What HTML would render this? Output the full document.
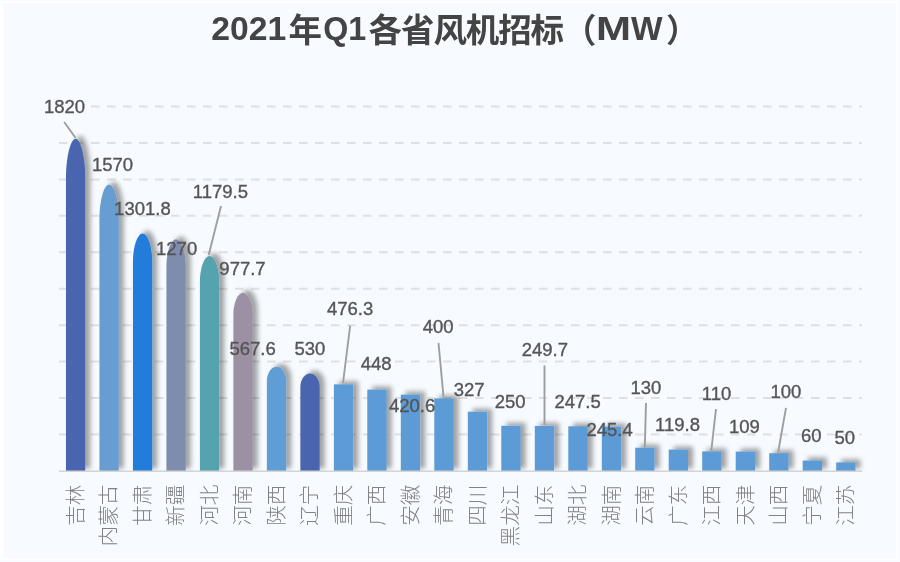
<!DOCTYPE html>
<html lang="zh-CN">
<head>
<meta charset="utf-8">
<title>2021年Q1各省风机招标（MW）</title>
<style>
html,body{margin:0;padding:0;background:#ffffff;}
body{width:900px;height:562px;overflow:hidden;position:relative;}
svg{position:absolute;left:0;top:0;display:block;filter:blur(0.65px);}
.title{font-family:"Liberation Sans","Noto Sans CJK SC",sans-serif;font-weight:700;font-size:32.5px;fill:#444444;}
.val{font-family:"Liberation Sans","Noto Sans CJK SC",sans-serif;font-size:18.5px;fill:#555555;stroke:#555555;stroke-width:0.35px;text-anchor:middle;}
.cat{font-family:"Liberation Sans","Noto Sans CJK SC",sans-serif;font-weight:300;font-size:20.6px;fill:#828282;text-anchor:end;}
.grid line{stroke:#dfe0e3;stroke-width:2;stroke-dasharray:8.5 7.5;}
.lead line{stroke:#9e9e9e;stroke-width:1.9;}
</style>
</head>
<body>
<svg width="900" height="562" viewBox="0 0 900 562">
<defs>
<filter id="sh" x="-50%" y="-20%" width="220%" height="140%">
<feGaussianBlur in="SourceAlpha" stdDeviation="2.8"/>
<feOffset dx="4.8" dy="-3" result="o"/>
<feComponentTransfer><feFuncA type="linear" slope="0.36"/></feComponentTransfer>
<feMerge><feMergeNode/><feMergeNode in="SourceGraphic"/></feMerge>
</filter>
<clipPath id="plot"><rect x="0" y="0" width="900" height="471.2"/></clipPath>
</defs>
<rect x="0" y="0" width="900" height="562" fill="#ffffff"/>
<rect x="898.3" y="0" width="1.7" height="562" fill="#f9fbfe"/>
<rect x="0" y="0" width="900" height="0.9" fill="#f9fbfe"/>
<rect x="0" y="560.3" width="900" height="1.7" fill="#f9fbfe"/>
<rect x="3.5" y="2.6" width="893.1" height="556.1" fill="#f7fafe"/>

<g class="grid">
<line x1="59" y1="434.6" x2="862" y2="434.6"/>
<line x1="59" y1="398.1" x2="862" y2="398.1"/>
<line x1="59" y1="361.6" x2="862" y2="361.6"/>
<line x1="59" y1="325.2" x2="862" y2="325.2"/>
<line x1="59" y1="288.8" x2="862" y2="288.8"/>
<line x1="59" y1="252.3" x2="862" y2="252.3"/>
<line x1="59" y1="215.8" x2="862" y2="215.8"/>
<line x1="59" y1="179.4" x2="862" y2="179.4"/>
<line x1="59" y1="142.9" x2="862" y2="142.9"/>
<line x1="91" y1="106.5" x2="862" y2="106.5"/>
</g>
<g clip-path="url(#plot)"><g filter="url(#sh)">
<path d="M65.95,471.5 L65.95,178.73 C65.95,156.37 70.77,138.8 75.6,138.8 C80.42,138.8 85.25,156.37 85.25,178.73 L85.25,471.5 Z" fill="#4a65b0"/>
<path d="M99.44,471.5 L99.44,218.94 C99.44,199.65 104.27,184.5 109.09,184.5 C113.92,184.5 118.74,199.65 118.74,218.94 L118.74,471.5 Z" fill="#679dd1"/>
<path d="M132.93,471.5 L132.93,262.09 C132.93,246.10 137.76,233.53 142.58,233.53 C147.41,233.53 152.23,246.10 152.23,262.09 L152.23,471.5 Z" fill="#237cd9"/>
<path d="M166.41,471.5 L166.41,267.2 C166.41,251.60 171.24,239.34 176.06,239.34 C180.88,239.34 185.71,251.60 185.71,267.2 L185.71,471.5 Z" fill="#7e8cae"/>
<path d="M199.9,471.5 L199.9,281.76 C199.9,267.27 204.73,255.89 209.55,255.89 C214.38,255.89 219.2,267.27 219.2,281.76 L219.2,471.5 Z" fill="#56a3b0"/>
<path d="M233.39,471.5 L233.39,314.22 C233.39,302.21 238.21,292.78 243.04,292.78 C247.87,292.78 252.69,302.21 252.69,314.22 L252.69,471.5 Z" fill="#9c90a4"/>
<path d="M266.88,471.5 L266.88,380.75 C266.88,372.91 271.70,366.74 276.53,366.74 C281.35,366.74 286.18,372.91 286.18,380.75 L286.18,471.5 Z" fill="#5f9dd5"/>
<path d="M300.37,471.5 L300.37,386.7 C300.37,379.38 305.19,373.62 310.02,373.62 C314.84,373.62 319.67,379.38 319.67,386.7 L319.67,471.5 Z" fill="#4965af"/>
<rect x="333.9" y="384.4" width="19.3" height="87.1" fill="#5b9bd5"/>
<rect x="367.3" y="389.6" width="19.3" height="81.9" fill="#5b9bd5"/>
<rect x="400.8" y="394.6" width="19.3" height="76.9" fill="#5b9bd5"/>
<rect x="434.3" y="398.4" width="19.3" height="73.1" fill="#5b9bd5"/>
<rect x="467.8" y="411.7" width="19.3" height="59.8" fill="#5b9bd5"/>
<rect x="501.3" y="425.8" width="19.3" height="45.7" fill="#5b9bd5"/>
<rect x="534.8" y="425.9" width="19.3" height="45.6" fill="#5b9bd5"/>
<rect x="568.3" y="426.3" width="19.3" height="45.2" fill="#5b9bd5"/>
<rect x="601.8" y="426.6" width="19.3" height="44.9" fill="#5b9bd5"/>
<rect x="635.2" y="447.7" width="19.3" height="23.8" fill="#5b9bd5"/>
<rect x="668.7" y="449.6" width="19.3" height="21.9" fill="#5b9bd5"/>
<rect x="702.2" y="451.4" width="19.3" height="20.1" fill="#5b9bd5"/>
<rect x="735.7" y="451.6" width="19.3" height="19.9" fill="#5b9bd5"/>
<rect x="769.2" y="453.2" width="19.3" height="18.3" fill="#5b9bd5"/>
<rect x="802.7" y="460.5" width="19.3" height="11.0" fill="#5b9bd5"/>
<rect x="836.2" y="462.4" width="19.3" height="9.1" fill="#5b9bd5"/>
</g></g>
<line x1="59" y1="471.3" x2="862" y2="471.3" stroke="#d4d4d4" stroke-width="1.4"/>
<g class="lead">
<line x1="64.2" y1="122" x2="75.6" y2="138"/>
<line x1="221" y1="206" x2="208.7" y2="255"/>
<line x1="350.2" y1="325.5" x2="343" y2="383"/>
<line x1="438.5" y1="343" x2="443.5" y2="396.7"/>
<line x1="544.5" y1="365.4" x2="544.5" y2="425"/>
<line x1="646" y1="403" x2="644.8" y2="447.3"/>
<line x1="716" y1="409" x2="711.3" y2="450.5"/>
<line x1="786" y1="407.8" x2="778.2" y2="452"/>
</g>
<g>
<text class="val" x="64.5" y="112.9">1820</text>
<text class="val" x="112.5" y="170.5">1570</text>
<text class="val" x="142.4" y="215.0">1301.8</text>
<text class="val" x="176.6" y="255.2">1270</text>
<text class="val" x="220.4" y="197.5">1179.5</text>
<text class="val" x="242.5" y="274.7">977.7</text>
<text class="val" x="252.6" y="354.8">567.6</text>
<text class="val" x="309.9" y="354.8">530</text>
<text class="val" x="350.1" y="314.7">476.3</text>
<text class="val" x="376.1" y="370.2">448</text>
<text class="val" x="412.1" y="411.8">420.6</text>
<text class="val" x="438.1" y="333.2">400</text>
<text class="val" x="469.2" y="396.2">327</text>
<text class="val" x="510.1" y="407.9">250</text>
<text class="val" x="544.8" y="355.6">249.7</text>
<text class="val" x="577.6" y="407.9">247.5</text>
<text class="val" x="609.6" y="436.4">245.4</text>
<text class="val" x="645.9" y="394.4">130</text>
<text class="val" x="677.5" y="430.8">119.8</text>
<text class="val" x="716.6" y="399.7">110</text>
<text class="val" x="744.4" y="432.7">109</text>
<text class="val" x="785.9" y="398.2">100</text>
<text class="val" x="811.3" y="442.0">60</text>
<text class="val" x="844.7" y="444.2">50</text>
</g>
<g>
<text class="cat" transform="translate(82.8,484.6) rotate(-90)">吉林</text>
<text class="cat" transform="translate(116.3,484.6) rotate(-90)">内蒙古</text>
<text class="cat" transform="translate(149.8,484.6) rotate(-90)">甘肃</text>
<text class="cat" transform="translate(183.3,484.6) rotate(-90)">新疆</text>
<text class="cat" transform="translate(216.8,484.6) rotate(-90)">河北</text>
<text class="cat" transform="translate(250.2,484.6) rotate(-90)">河南</text>
<text class="cat" transform="translate(283.7,484.6) rotate(-90)">陕西</text>
<text class="cat" transform="translate(317.2,484.6) rotate(-90)">辽宁</text>
<text class="cat" transform="translate(350.7,484.6) rotate(-90)">重庆</text>
<text class="cat" transform="translate(384.2,484.6) rotate(-90)">广西</text>
<text class="cat" transform="translate(417.7,484.6) rotate(-90)">安徽</text>
<text class="cat" transform="translate(451.2,484.6) rotate(-90)">青海</text>
<text class="cat" transform="translate(484.7,484.6) rotate(-90)">四川</text>
<text class="cat" transform="translate(518.1,484.6) rotate(-90)">黑龙江</text>
<text class="cat" transform="translate(551.6,484.6) rotate(-90)">山东</text>
<text class="cat" transform="translate(585.1,484.6) rotate(-90)">湖北</text>
<text class="cat" transform="translate(618.6,484.6) rotate(-90)">湖南</text>
<text class="cat" transform="translate(652.1,484.6) rotate(-90)">云南</text>
<text class="cat" transform="translate(685.6,484.6) rotate(-90)">广东</text>
<text class="cat" transform="translate(719.1,484.6) rotate(-90)">江西</text>
<text class="cat" transform="translate(752.6,484.6) rotate(-90)">天津</text>
<text class="cat" transform="translate(786.0,484.6) rotate(-90)">山西</text>
<text class="cat" transform="translate(819.5,484.6) rotate(-90)">宁夏</text>
<text class="cat" transform="translate(853.0,484.6) rotate(-90)">江苏</text>
</g>
<text class="title" y="40.2"><tspan x="211.3" font-size="32.5" textLength="75" lengthAdjust="spacingAndGlyphs">2021</tspan><tspan x="288.6" dy="1.5" font-size="33.5">年</tspan><tspan x="323.2" dy="-1.5" font-size="32.5" textLength="43" lengthAdjust="spacingAndGlyphs">Q1</tspan><tspan x="368.6" dy="1.5" font-size="33.5" letter-spacing="-1.1">各省风机招标（</tspan><tspan x="596" dy="-1.5" font-size="32.5" textLength="35" lengthAdjust="spacingAndGlyphs">M</tspan><tspan x="631" font-size="32.5" textLength="31.6" lengthAdjust="spacingAndGlyphs">W</tspan><tspan x="666" dy="1.5">）</tspan></text>
</svg>
</body>
</html>
